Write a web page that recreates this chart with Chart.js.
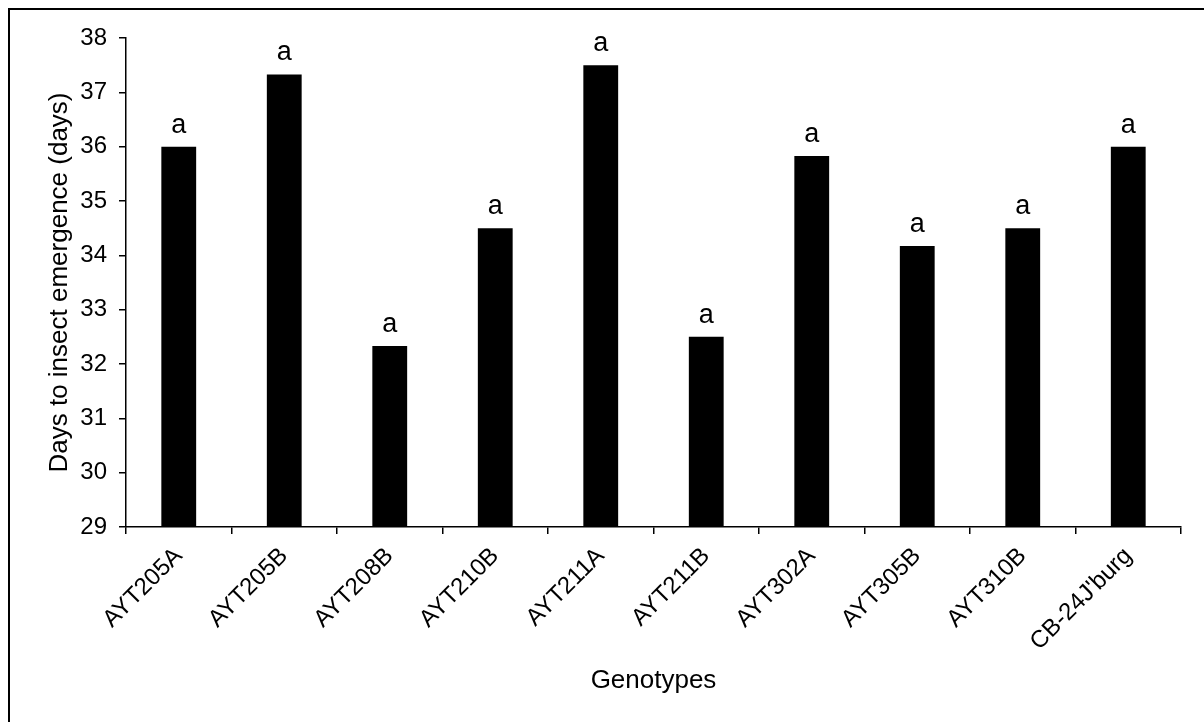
<!DOCTYPE html>
<html lang="en">
<head>
    <meta charset="UTF-8">
    <title>Days to insect emergence</title>
    <script src="https://cdn.jsdelivr.net/npm/chart.js@4/dist/chart.umd.min.js"></script>
    <style>
      html, body {
        margin: 0;
        padding: 0;
        background: #fff;
      }
      .wrap {
        position: relative;
        width: 1204px;
        height: 722px;
      }
      .frame {
        position: absolute;
        left: 8px;
        top: 8px;
        right: -10px;
        bottom: -10px;
        border-top: 2px solid #000;
        border-left: 2px solid #000;
        pointer-events: none;
      }
    </style>
</head>
<body>
    <div class="wrap">
        <canvas id="myChart" width="1204" height="722"></canvas>
        <div class="frame"></div>
    </div>

    <script>
        const genotypes = ['AYT205A', 'AYT205B', 'AYT208B', 'AYT210B', 'AYT211A', 'AYT211B', 'AYT302A', 'AYT305B', 'AYT310B', "CB-24J'burg"];
        const emergenceDays = [36, 37.33, 32.33, 34.5, 37.5, 32.5, 35.83, 34.17, 34.5, 36];
        const letters = ['a', 'a', 'a', 'a', 'a', 'a', 'a', 'a', 'a', 'a'];

        const FONT = "'Liberation Sans', Arial, sans-serif";

        // draws the significance letter above each bar
        const letterPlugin = {
          id: 'letters',
          afterDatasetsDraw(chart) {
            const ctx = chart.ctx;
            const meta = chart.getDatasetMeta(0);
            ctx.save();
            ctx.font = '27px ' + FONT;
            ctx.fillStyle = '#000';
            ctx.textAlign = 'center';
            ctx.textBaseline = 'alphabetic';
            meta.data.forEach((bar, i) => {
              ctx.fillText(letters[i], bar.x, bar.y - 14);
            });
            ctx.restore();
          }
        };

        const ctx = document.getElementById('myChart').getContext('2d');
        new Chart(ctx, {
          type: 'bar',
          data: {
            labels: genotypes,
            datasets: [{
              data: emergenceDays,
              backgroundColor: '#000',
              borderWidth: 0,
              categoryPercentage: 1,
              barPercentage: 0.33
            }]
          },
          options: {
            responsive: false,
            animation: false,
            layout: {
              padding: { left: 40, top: 38, right: 23, bottom: 0 }
            },
            plugins: {
              legend: { display: false },
              tooltip: { enabled: false }
            },
            scales: {
              x: {
                grid: {
                  offset: true,
                  drawOnChartArea: false,
                  drawTicks: true,
                  tickLength: 7,
                  color: '#000',
                  lineWidth: 1.5
                },
                border: { color: '#000', width: 1.5 },
                ticks: {
                  color: '#000',
                  font: { family: FONT, size: 24 },
                  minRotation: 45,
                  maxRotation: 45,
                  padding: 8,
                  autoSkip: false
                },
                title: {
                  display: true,
                  text: 'Genotypes',
                  color: '#000',
                  font: { family: FONT, size: 26 },
                  padding: { top: 4, bottom: 26 }
                },
                afterFit(scale) {
                  scale.height = 195;
                }
              },
              y: {
                min: 29,
                max: 38,
                grid: {
                  drawOnChartArea: false,
                  drawTicks: true,
                  tickLength: 7,
                  color: '#000',
                  lineWidth: 1.5
                },
                border: { color: '#000', width: 1.5 },
                ticks: {
                  stepSize: 1,
                  color: '#000',
                  font: { family: FONT, size: 24 },
                  padding: 12
                },
                title: {
                  display: true,
                  text: 'Days to insect emergence (days)',
                  color: '#000',
                  font: { family: FONT, size: 26 },
                  padding: { top: 4, bottom: 0 }
                },
                afterFit(scale) {
                  scale.width = 86;
                }
              }
            }
          },
          plugins: [letterPlugin]
        });
    </script>
</body>
</html>
